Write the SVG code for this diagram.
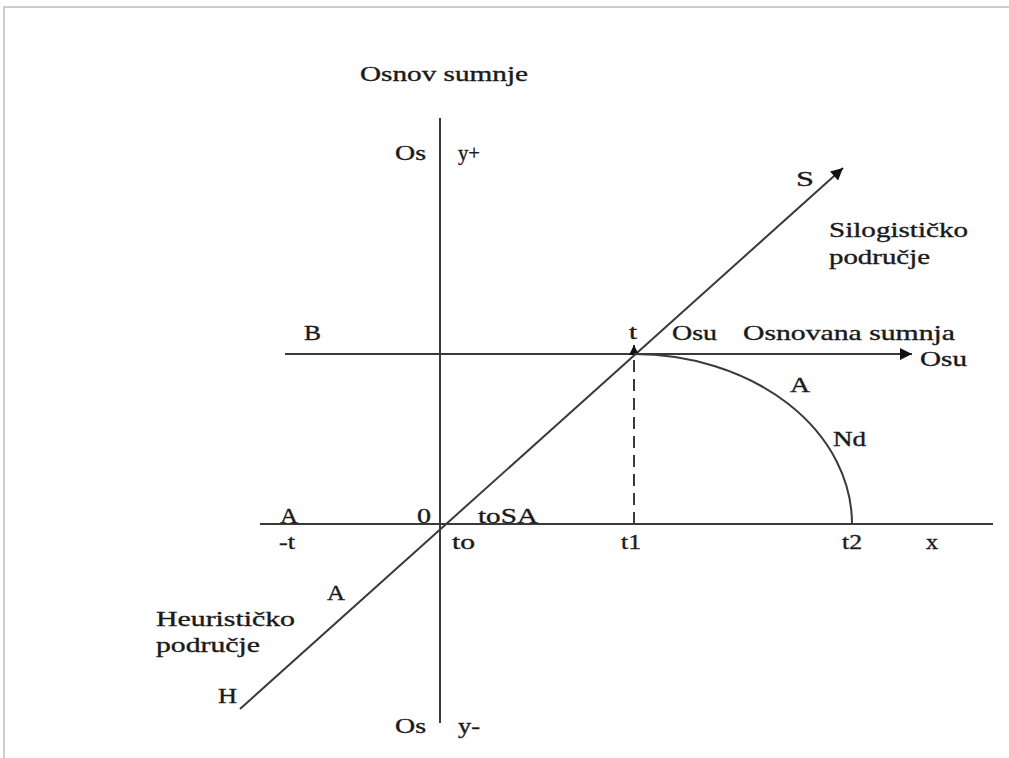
<svg xmlns="http://www.w3.org/2000/svg" width="1009" height="758" viewBox="0 0 1009 758">
<style>
text{font-family:"Liberation Serif","Times New Roman",serif;font-size:21px;fill:#1a1a1a;stroke:#1a1a1a;stroke-width:0.35}
.ax{stroke:#3a3a3a;stroke-width:2;fill:none}
</style>
<defs>
<marker id="arr" viewBox="0 0 10 10" refX="10" refY="5" markerWidth="16" markerHeight="12" markerUnits="userSpaceOnUse" orient="auto">
<path d="M0,0 L10,5 L0,10 z" fill="#111"/>
</marker>
<marker id="arrs" viewBox="0 0 10 10" refX="10" refY="5" markerWidth="11" markerHeight="10" markerUnits="userSpaceOnUse" orient="auto">
<path d="M0,0 L10,5 L0,10 z" fill="#111"/>
</marker>
</defs>
<rect width="1009" height="758" fill="#fff"/>
<path d="M4,758 V7 H1009" stroke="#bdbdbd" stroke-width="1.5" fill="none"/>
<g id="connectors">
<line class="ax" x1="440" y1="118" x2="440" y2="723"/>
<line class="ax" x1="260" y1="524" x2="993" y2="524" stroke-width="2.6"/>
<line class="ax" x1="285" y1="354" x2="912" y2="354" marker-end="url(#arr)"/>
<line class="ax" x1="240" y1="709" x2="843" y2="168" marker-end="url(#arr)"/>
<line class="ax" x1="634" y1="524" x2="634" y2="345" stroke-dasharray="12,7" marker-end="url(#arrs)"/>
<path class="ax" d="M634,354 A218,170 0 0 1 852,524"/>
</g>
<g id="labels">
<text x="360" y="81" font-size="24" textLength="168" lengthAdjust="spacingAndGlyphs">Osnov sumnje</text>
<text x="395" y="160" textLength="31" lengthAdjust="spacingAndGlyphs">Os</text>
<text x="458" y="160" textLength="22" lengthAdjust="spacingAndGlyphs">y+</text>
<text x="796" y="186" textLength="18" lengthAdjust="spacingAndGlyphs">S</text>
<text x="829" y="237" textLength="139" lengthAdjust="spacingAndGlyphs">Silogističko</text>
<text x="829" y="264" textLength="101" lengthAdjust="spacingAndGlyphs">područje</text>
<text x="304" y="340" textLength="17" lengthAdjust="spacingAndGlyphs">B</text>
<text x="629" y="339" textLength="8" lengthAdjust="spacingAndGlyphs">t</text>
<text x="672" y="340" textLength="45" lengthAdjust="spacingAndGlyphs">Osu</text>
<text x="743" y="340" textLength="212" lengthAdjust="spacingAndGlyphs">Osnovana sumnja</text>
<text x="920" y="366" textLength="47" lengthAdjust="spacingAndGlyphs">Osu</text>
<text x="790" y="392" textLength="20" lengthAdjust="spacingAndGlyphs">A</text>
<text x="833" y="446" textLength="33" lengthAdjust="spacingAndGlyphs">Nd</text>
<text x="280" y="523" textLength="18" lengthAdjust="spacingAndGlyphs">A</text>
<text x="417" y="523" textLength="14" lengthAdjust="spacingAndGlyphs">0</text>
<text x="478" y="523" textLength="60" lengthAdjust="spacingAndGlyphs">toSA</text>
<text x="279" y="549" textLength="16" lengthAdjust="spacingAndGlyphs">-t</text>
<text x="452" y="549" textLength="23" lengthAdjust="spacingAndGlyphs">to</text>
<text x="621" y="549" textLength="20" lengthAdjust="spacingAndGlyphs">t1</text>
<text x="842" y="549" textLength="20" lengthAdjust="spacingAndGlyphs">t2</text>
<text x="926" y="549" textLength="12" lengthAdjust="spacingAndGlyphs">x</text>
<text x="327" y="600" textLength="18" lengthAdjust="spacingAndGlyphs">A</text>
<text x="156" y="626" textLength="139" lengthAdjust="spacingAndGlyphs">Heurističko</text>
<text x="156" y="652" textLength="104" lengthAdjust="spacingAndGlyphs">područje</text>
<text x="218" y="703" textLength="19" lengthAdjust="spacingAndGlyphs">H</text>
<text x="395" y="733" textLength="31" lengthAdjust="spacingAndGlyphs">Os</text>
<text x="458" y="733" textLength="22" lengthAdjust="spacingAndGlyphs">y-</text>
</g>
</svg>
